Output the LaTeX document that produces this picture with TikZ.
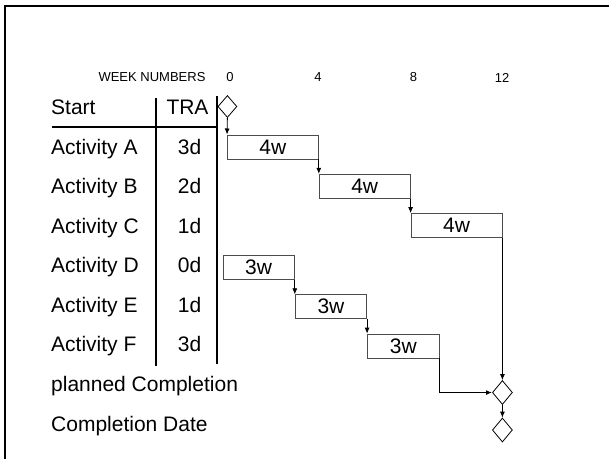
\documentclass[tikz,border=0pt]{standalone}
\usepackage{fontspec}
\setmainfont{Liberation Sans}
\usetikzlibrary{positioning,shapes.geometric,arrows.meta}

\begin{document}
\begin{tikzpicture}[x=1pt,y=-1pt,
    lbl/.style={anchor=base west,inner sep=0pt,font=\fontsize{21}{25}\selectfont},
    tra/.style={anchor=base,inner sep=0pt,font=\fontsize{21}{25}\selectfont},
    wk/.style={inner sep=0pt,font=\fontsize{13}{15}\selectfont},
    actbox/.style={draw=black!70,line width=.8pt,minimum height=24pt,inner sep=0pt,font=\fontsize{21}{25}\selectfont},
    mile/.style={draw,diamond,inner sep=0pt,line width=.8pt,minimum width=20pt,minimum height=24pt},
    link/.style={-{Latex[length=6pt,width=5pt]},line width=.8pt}]
  \useasboundingbox (0,0) rectangle (609,459);
  \draw[line width=2pt] (5,459) |- (609,6);

  \node[wk] (weeks) at (152,77.5) {WEEK NUMBERS};
  \node[wk] (wk0) at (230,77.5) {0};
  \node[wk] (wk4) at (318,77.5) {4};
  \node[wk] (wk8) at (413.5,77.5) {8};
  \node[wk] (wk12) at (502,77.5) {12};

  \node[lbl] (start) at (51,114) {Start};
  \node[tra] (trahead) at (187.5,114) {TRA};
  \node[lbl] (nameA) at (51,154) {Activity A};
  \node[tra] (traA) at (189.5,154) {3d};
  \node[lbl] (nameB) at (51,193.5) {Activity B};
  \node[tra] (traB) at (189.5,193.5) {2d};
  \node[lbl] (nameC) at (51,233) {Activity C};
  \node[tra] (traC) at (189.5,233) {1d};
  \node[lbl] (nameD) at (51,272.5) {Activity D};
  \node[tra] (traD) at (189.5,272.5) {0d};
  \node[lbl] (nameE) at (51,312) {Activity E};
  \node[tra] (traE) at (189.5,312) {1d};
  \node[lbl] (nameF) at (51,351.5) {Activity F};
  \node[tra] (traF) at (189.5,351.5) {3d};
  \node[lbl] (planned) at (51,391) {planned Completion};
  \node[lbl] (compl) at (51,431) {Completion Date};

  \draw[line width=2pt] (52,126.5) -- (217,126.5);
  \draw[line width=2pt] (155.5,98) -- (155.5,366);
  \draw[line width=2pt] (216.5,96) -- (216.5,364);

  \node[actbox,minimum width=91pt,anchor=north west] (actA) at (227,134.5) {4w};
  \node[actbox,minimum width=91pt,below right=14.5pt and 0pt of actA] (actB) {4w};
  \node[actbox,minimum width=91pt,below right=14.5pt and 0pt of actB] (actC) {4w};
  \node[actbox,minimum width=71.5pt,anchor=north west] (actD) at (222.5,255) {3w};
  \node[actbox,minimum width=71.5pt,below right=14.5pt and 0pt of actD] (actE) {3w};
  \node[actbox,minimum width=71.5pt,below right=14.5pt and 0pt of actE] (actF) {3w};

  \node[mile,minimum width=19pt,minimum height=22pt] (begin) at (227.4,106.5) {};
  \node[mile] (plan) at (actC.south east |- 0,392.5) {};
  \node[mile] (done) at (plan |- 0,430) {};

  \draw[link] (begin.south) -- (actA.north west);
  \draw[link] (actA.south east) -- (actB.north west);
  \draw[link] (actB.south east) -- (actC.north west);
  \draw[link] (actC.south east) -- (plan.north);
  \draw[link] (actD.south east) -- (actE.north west);
  \draw[link] (actE.south east) -- (actF.north west);
  \draw[link,line width=1.6pt] (actF.south east) |- (plan.west);
  \draw[link] (plan.south) -- (done.north);
\end{tikzpicture}
\end{document}
